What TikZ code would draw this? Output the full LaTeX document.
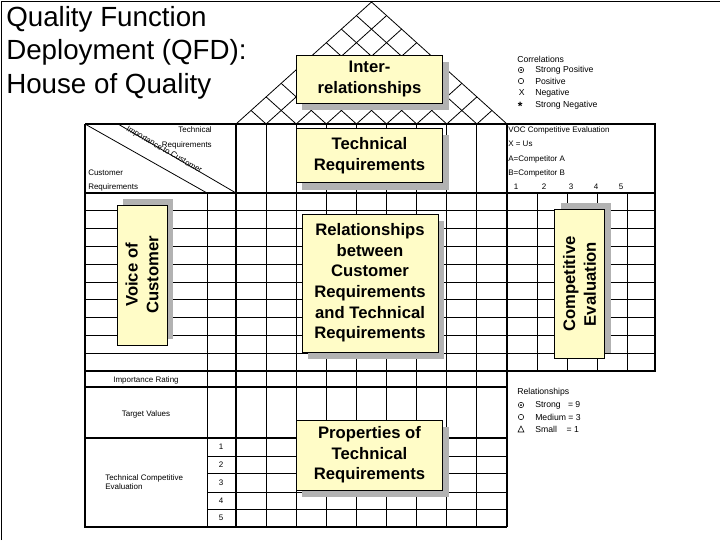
\documentclass[tikz,border=0pt]{standalone}
\usepackage{fontspec}
\setmainfont{Liberation Sans}
\begin{document}
\begin{tikzpicture}[x=0.75pt,y=-0.75pt,
  thin/.style={line width=0.6pt},
  thick/.style={line width=2.1pt},
  ybox/.style={draw,line width=0.6pt,fill=yellow!22,font=\fontsize{12.5}{15.5}\selectfont\bfseries,align=center,inner sep=0pt},
  shad/.style={fill=black!30},
  tiny/.style={font=\fontsize{6}{7}\selectfont,inner sep=0pt},
  leg/.style={font=\fontsize{6.5}{8}\selectfont,inner sep=0pt,anchor=west}]
\useasboundingbox (0,0) rectangle (720,540);
\draw[thin] (1,540) -- (1,1) -- (720,1);
% title
\node[anchor=north west,align=left,inner sep=0pt,font=\fontsize{20.8}{25}\selectfont] (title) at (6,6) {Quality Function\\Deployment (QFD):\\House of Quality};
% roof
\coordinate (rl) at (236,124); \coordinate (rr) at (507,124); \coordinate (ap) at (371.5,2);
\draw[thin] (rl) -- (ap) -- (rr);
\foreach \k in {1,...,8}{
  \pgfmathsetmacro{\xk}{236+30.111*\k}
  \draw[thin] (\xk,124) -- ({(507+\xk)/2},{124-0.9*(507-\xk)/2});
  \draw[thin] (\xk,124) -- ({(236+\xk)/2},{124-0.9*(\xk-236)/2});
}
% horizontal thin lines
\foreach \k in {1,...,9}{ \draw[thin] (85,{193+17.8*\k}) -- (655,{193+17.8*\k}); }
\foreach \y in {456,473,492,509}{ \draw[thin] (207,\y) -- (507,\y); }
% vertical thin lines
\foreach \k in {1,...,8}{ \draw[thin] ({236+30.111*\k},124) -- ({236+30.111*\k},527); }
\draw[thin] (207,193) -- (207,527);
\foreach \x in {537,567,597,627}{ \draw[thin] (\x,193) -- (\x,371); }
% header diagonals
\draw[thin] (85,124) -- (207,193);
\draw[thin] (118,124) -- (236,193);
% thick lines
\draw[thick] (85,124) -- (655,124) -- (655,371) -- (85,371);
\draw[thick] (85,193) -- (655,193);
\draw[thick] (85,387) -- (507,387);
\draw[thick] (85,438) -- (507,438);
\draw[thick] (85,124) -- (85,527) -- (507,527);
\draw[thick] (236,124) -- (236,527);
\draw[thick] (507,124) -- (507,527);
% boxes (sizes in pt = px*0.75)
\fill[shad] (302,62) rectangle (449,110);
\node[ybox,minimum width=110pt,minimum height=36pt] (inter) at (369.5,79) {Inter-\\relationships};
\fill[shad] (302,135) rectangle (449,190);
\node[ybox,minimum width=110pt,minimum height=41pt] (tech) at (369.5,155.5) {Technical\\Requirements};
\fill[shad] (308,221) rectangle (444,359);
\node[ybox,minimum width=102pt,minimum height=103.5pt] (rel) at (370,283) {Relationships\\between\\Customer\\Requirements\\and Technical\\Requirements};
\fill[shad] (123,199) rectangle (173,339);
\node[ybox,rotate=90,minimum width=105pt,minimum height=37.5pt] (voc) at (142,275) {Voice of\\Customer};
\fill[shad] (561,203) rectangle (611,353);
\node[ybox,rotate=90,minimum width=112pt,minimum height=38pt] (comp) at (579.5,284) {Competitive\\Evaluation};
\fill[shad] (302,427) rectangle (449,497);
\node[ybox,minimum width=110pt,minimum height=52.5pt] (prop) at (369.5,455) {Properties of\\Technical\\Requirements};
% left header texts
\node[tiny,anchor=east] (th1) at (212,130) {Technical};
\node[tiny,anchor=east] (th2) at (212,145) {Requirements};
\node[tiny,anchor=west] (cr1) at (88,173) {Customer};
\node[tiny,anchor=west] (cr2) at (88,187) {Requirements};
\node[font=\fontsize{6}{7}\selectfont,inner sep=0pt,rotate=-30] (imp) at (164,150) {Importance to Customer};
\node[tiny] (ir) at (146,380) {Importance Rating};
\node[tiny] (tv) at (146,414) {Target Values};
\node[tiny,anchor=west,align=left] (tce) at (105,482) {Technical Competitive\\Evaluation};
\foreach \n/\y in {1/447,2/465,3/482.5,4/500.5,5/518}{ \node[tiny] (n\n) at (221,\y) {\n}; }
% VOC header
\node[tiny,anchor=west] (v1) at (508,130) {VOC Competitive Evaluation};
\node[tiny,anchor=west] (v2) at (508,144) {X = Us};
\node[tiny,anchor=west] (v3) at (508,159) {A=Competitor A};
\node[tiny,anchor=west] (v4) at (508,173) {B=Competitor B};
\foreach \n/\x in {1/516,2/544,3/571,4/596,5/621}{ \node[tiny] (s\n) at (\x,187) {\n}; }
% correlations legend
\node[leg] (cl) at (517,59) {Correlations};
\draw[line width=0.4pt] (521,70) circle (2.7); \fill (521,70) circle (1);
\draw[line width=0.4pt] (521,81) circle (2.7);
\node[leg] (xm) at (518.5,93) {X};
\node[leg,font=\fontsize{9}{9}\selectfont\bfseries] (ast) at (517.5,106) {*};
\node[leg] (c1) at (535,70) {Strong Positive};
\node[leg] (c2) at (535,81) {Positive};
\node[leg] (c3) at (535,93) {Negative};
\node[leg] (c4) at (535,105) {Strong Negative};
% relationships legend
\node[leg] (rl0) at (517,392) {Relationships};
\draw[line width=0.4pt] (521,405) circle (2.7); \fill (521,405) circle (1);
\draw[line width=0.4pt] (521,417) circle (2.7);
\draw[line width=0.4pt] (518,432) -- (524,432) -- (521,426) -- cycle;
\node[leg] (r1) at (535,405) {Strong\ \ \ = 9};
\node[leg] (r2) at (535,417) {Medium = 3};
\node[leg] (r3) at (535,429) {Small\ \ \ \ = 1};
\end{tikzpicture}
\end{document}
